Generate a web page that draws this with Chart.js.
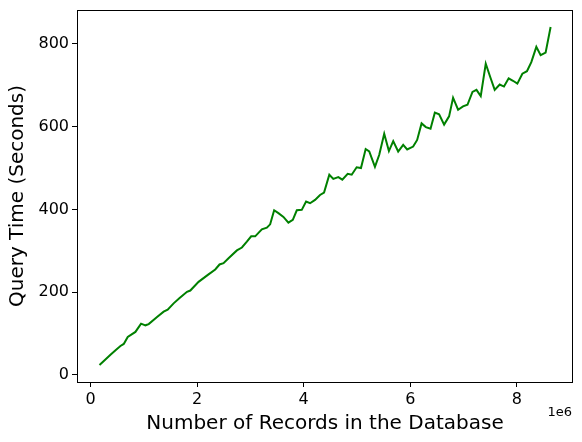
<!DOCTYPE html>
<html>
<head>
<meta charset="utf-8">
<script src="https://cdn.jsdelivr.net/npm/chart.js@4/dist/chart.umd.min.js"></script>
<style>
  html, body { margin: 0; padding: 0; background: #fff; }
  #wrap { width: 582px; height: 442px; }
</style>
</head>
<body>
<div id="wrap"><canvas id="queryChart" width="582" height="442"></canvas></div>
<script>
// number of records (in records)
const records = [
  169000, 270000, 375000, 470000, 562000, 624000, 699000, 843000, 949000, 1030000,
  1092000, 1249000, 1373000, 1448000, 1560000, 1672000, 1811000, 1873000, 2028000, 2215000,
  2341000, 2421000, 2496000, 2590000, 2747000, 2841000, 2934000, 3015000, 3090000, 3215000,
  3309000, 3371000, 3446000, 3526000, 3620000, 3713000, 3796000, 3871000, 3964000, 4045000,
  4120000, 4213000, 4307000, 4382000, 4481000, 4556000, 4650000, 4725000, 4826000, 4901000,
  4994000, 5075000, 5163000, 5230000, 5337000, 5418000, 5511000, 5599000, 5680000, 5773000,
  5867000, 5942000, 6054000, 6129000, 6212000, 6292000, 6380000, 6461000, 6541000, 6635000,
  6728000, 6803000, 6897000, 6990000, 7073000, 7167000, 7242000, 7322000, 7416000, 7500000,
  7584000, 7678000, 7758000, 7846000, 7927000, 8009000, 8103000, 8189000, 8271000, 8365000,
  8446000, 8539000, 8633000
];

// query time in seconds
const queryTime = [
  24, 36, 49, 60, 70, 75, 92, 104, 124, 120,
  123, 140, 153, 158, 173, 186, 201, 204, 225, 243,
  255, 267, 270, 282, 301, 308, 322, 335, 335, 352,
  356, 364, 398, 391, 382, 368, 375, 398, 399, 419,
  415, 423, 435, 441, 484, 474, 478, 472, 486, 484,
  502, 500, 546, 540, 503, 532, 583, 541, 565, 540,
  556, 545, 552, 568, 608, 599, 595, 634, 630, 605,
  625, 670, 641, 649, 653, 684, 689, 674, 752, 720,
  689, 702, 697, 717, 711, 704, 728, 734, 756, 793,
  773, 779, 841
];

const xTicks = [0, 2000000, 4000000, 6000000, 8000000];
const yTicks = [0, 200, 400, 600, 800];

const FONT = "'DejaVu Sans', sans-serif";

// matplotlib style box around the plot + the offset text
const boxPlugin = {
  id: 'boxPlugin',
  afterDraw(chart) {
    const { ctx, chartArea } = chart;
    ctx.save();
    ctx.strokeStyle = '#000';
    ctx.lineWidth = 1;
    ctx.strokeRect(chartArea.left + 0.5, chartArea.top + 0.5,
      chartArea.right - chartArea.left - 1, chartArea.bottom - chartArea.top);
    ctx.fillStyle = '#000';
    ctx.font = '13px ' + FONT;
    ctx.textAlign = 'right';
    ctx.textBaseline = 'top';
    ctx.fillText('1e6', chartArea.right - 1, chartArea.bottom + 24);
    ctx.restore();
  }
};

const points = records.map((r, i) => ({ x: r, y: queryTime[i] }));

new Chart(document.getElementById('queryChart').getContext('2d'), {
  type: 'line',
  data: {
    datasets: [{
      data: points,
      borderColor: '#008000',
      borderWidth: 2,
      pointRadius: 0,
      tension: 0,
      fill: false
    }]
  },
  options: {
    responsive: false,
    animation: false,
    layout: { padding: { left: 6, top: 10, right: 9, bottom: 0 } },
    plugins: { legend: { display: false }, tooltip: { enabled: false } },
    scales: {
      x: {
        type: 'linear',
        min: -253000,
        max: 9053000,
        afterBuildTicks: (axis) => { axis.ticks = xTicks.map(v => ({ value: v })); },
        afterFit: (axis) => {
          axis.height = 60;
          axis.paddingLeft = 0;
          axis.paddingRight = 0;
        },
        ticks: {
          color: '#000',
          font: { family: FONT, size: 16 },
          padding: 3,
          maxRotation: 0,
          callback: (v) => String(v / 1000000)
        },
        grid: { drawOnChartArea: false, color: '#000', tickLength: 5 },
        border: { display: false },
        title: {
          display: true,
          text: 'Number of Records in the Database',
          color: '#000',
          font: { family: FONT, size: 20 },
          padding: { top: 0, bottom: 6 }
        }
      },
      y: {
        min: -17,
        max: 882,
        afterBuildTicks: (axis) => { axis.ticks = yTicks.map(v => ({ value: v })); },
        afterFit: (axis) => {
          axis.width = 71;
          axis.paddingTop = 0;
          axis.paddingBottom = 0;
        },
        ticks: {
          color: '#000',
          font: { family: FONT, size: 16 },
          padding: 3
        },
        grid: { drawOnChartArea: false, color: '#000', tickLength: 5 },
        border: { display: false },
        title: {
          display: true,
          text: 'Query Time (Seconds)',
          color: '#000',
          font: { family: FONT, size: 20 },
          padding: 0
        }
      }
    }
  },
  plugins: [boxPlugin]
});
</script>
</body>
</html>
